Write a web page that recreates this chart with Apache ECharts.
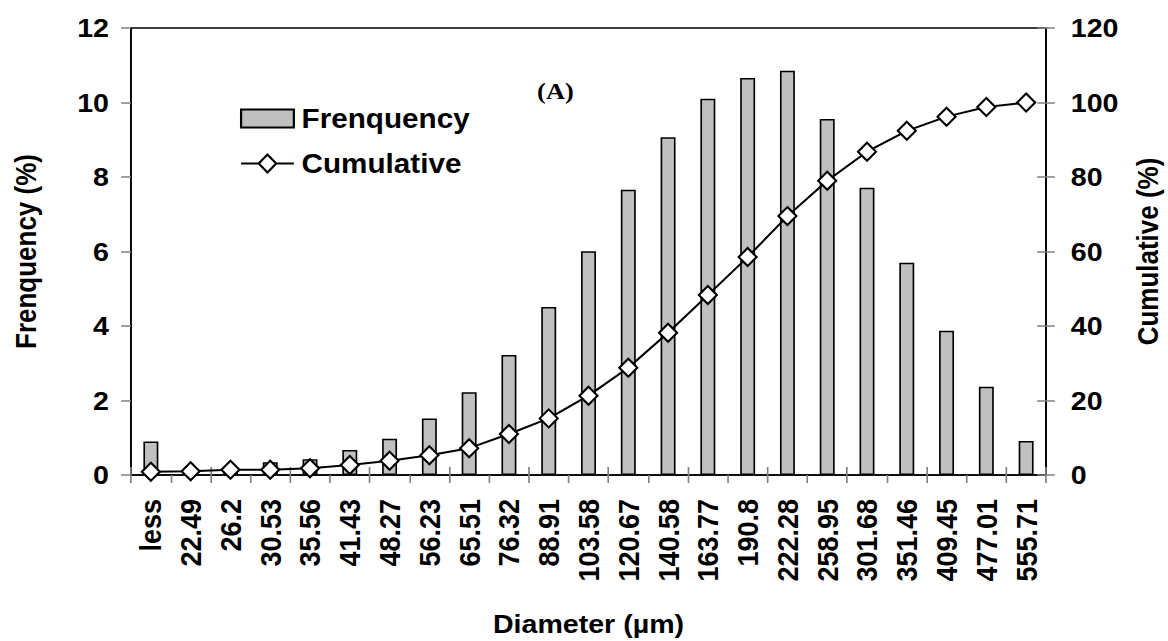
<!DOCTYPE html>
<html>
<head>
<meta charset="utf-8">
<script src="https://cdn.jsdelivr.net/npm/echarts@6/dist/echarts.min.js"></script>
<style>
  html, body { margin: 0; padding: 0; background: #fff; }
  #wrap { width: 1168px; height: 641px; overflow: hidden; }
  /* the chart is laid out slightly narrower and widened horizontally */
  #chart { width: 1062px; height: 641px; transform: scaleX(1.0998); transform-origin: 0 0; }
</style>
</head>
<body>
<div id="wrap"><div id="chart"></div></div>
<script>
// Particle size classes (upper bound, µm)
const diameters = ['less', '22.49', '26.2', '30.53', '35.56', '41.43', '48.27', '56.23', '65.51',
  '76.32', '88.91', '103.58', '120.67', '140.58', '163.77', '190.8', '222.28', '258.95',
  '301.68', '351.46', '409.45', '477.01', '555.71'];

// Frequency of each class (%)
const frequency = [0.9, 0.1, 0.2, 0.34, 0.42, 0.67, 0.97, 1.52, 2.22, 3.22, 4.51, 6.01,
  7.66, 9.07, 10.1, 10.66, 10.85, 9.56, 7.71, 5.70, 3.87, 2.37, 0.91];

// Cumulative distribution (%)
const cumulative = [0.9, 1.0, 1.4, 1.4, 1.8, 2.7, 3.8, 5.3, 7.2, 11.0, 15.2, 21.3,
  28.8, 38.2, 48.3, 58.5, 69.5, 79.0, 86.8, 92.4, 96.2, 98.8, 100];

const freqTicks = [0, 2, 4, 6, 8, 10, 12];
const cumTicks = [0, 20, 40, 60, 80, 100, 120];

const FONT = "'Liberation Sans', Arial, sans-serif";
const tickColor = '#808080';
const labelStyle = { color: '#000', fontFamily: FONT, fontWeight: 'bold', fontSize: 26 };

const chart = echarts.init(document.getElementById('chart'), null, { renderer: 'svg' });

chart.setOption({
  animation: false,
  backgroundColor: '#fff',
  grid: {
    left: 119.1, right: 110.9, top: 28, bottom: 166,
    outerBoundsMode: 'none', containLabel: false,
    show: true, borderColor: '#000', borderWidth: 1.5, backgroundColor: 'transparent'
  },
  title: {
    text: '(A)',
    left: 500, top: 74, textAlign: 'center',
    textStyle: { fontFamily: "'Liberation Serif', 'Times New Roman', serif", fontWeight: 'bold', fontSize: 24, color: '#000' }
  },
  legend: {
    orient: 'vertical',
    left: 213.2, top: 100,
    itemWidth: 48, itemHeight: 18, itemGap: 18,
    symbolKeepAspect: false,
    textStyle: { fontFamily: FONT, fontWeight: 'bold', fontSize: 27, color: '#000', padding: [0, 0, 0, 2] },
    data: [
      { name: 'Frenquency', icon: 'rect' },
      {
        name: 'Cumulative',
        icon: 'path://M0,9L18,9M18,9L27,0L36,9L27,18ZM36,9L54,9',
        itemStyle: { color: '#fff', borderColor: '#000', borderWidth: 2 }
      }
    ]
  },
  xAxis: [
    {
      type: 'category', data: diameters, position: 'bottom',
      name: 'Diameter (µm)', nameLocation: 'middle', nameGap: 136,
      nameTextStyle: labelStyle,
      axisLine: { lineStyle: { color: '#000', width: 1.5 } },
      axisTick: { show: true, inside: false, length: 8, lineStyle: { color: tickColor, width: 1.5 } },
      axisLabel: Object.assign({ rotate: 90, margin: 24, interval: 0 }, labelStyle, { fontSize: 27 }),
      splitLine: { show: false }
    },
    {
      type: 'category', data: diameters, position: 'bottom',
      axisLine: { show: false },
      axisTick: { show: true, inside: true, length: 8, lineStyle: { color: tickColor, width: 1.5 } },
      axisLabel: { show: false },
      splitLine: { show: false }
    }
  ],
  yAxis: [
    {
      type: 'value', position: 'left', min: 0, max: 12, interval: 2,
      name: 'Frenquency (%)', nameLocation: 'middle', nameGap: 82, nameRotate: 90,
      nameTextStyle: labelStyle,
      axisLine: { show: true, lineStyle: { color: '#000', width: 1.5 } },
      axisTick: { show: true, inside: false, length: 9, lineStyle: { color: tickColor, width: 1.5 } },
      axisLabel: Object.assign({ margin: 20, formatter: v => freqTicks.includes(v) ? String(v) : '' }, labelStyle),
      splitLine: { show: false }
    },
    {
      type: 'value', position: 'right', min: 0, max: 120, interval: 20,
      name: 'Cumulative (%)', nameLocation: 'middle', nameGap: 80, nameRotate: 90,
      nameTextStyle: labelStyle,
      axisLine: { show: true, lineStyle: { color: '#000', width: 1.5 } },
      axisTick: { show: true, inside: false, length: 8, lineStyle: { color: tickColor, width: 1.5 } },
      axisLabel: Object.assign({ margin: 22.5, formatter: v => cumTicks.includes(v) ? String(v) : '' }, labelStyle),
      splitLine: { show: false }
    },
    {
      type: 'value', position: 'right', min: 0, max: 120, interval: 20,
      axisLine: { show: false },
      axisTick: { show: true, inside: true, length: 8, lineStyle: { color: tickColor, width: 1.5 } },
      axisLabel: { show: false },
      splitLine: { show: false }
    }
  ],
  series: [
    {
      name: 'Frenquency', type: 'bar', xAxisIndex: 0, yAxisIndex: 0,
      data: frequency, barWidth: 13.6,
      itemStyle: { color: '#c0c0c0', borderColor: '#000', borderWidth: 1.5 }
    },
    {
      name: 'Cumulative', type: 'line', xAxisIndex: 0, yAxisIndex: 1,
      data: cumulative,
      symbol: 'diamond', symbolSize: [16.4, 18],
      lineStyle: { color: '#000', width: 2 },
      itemStyle: { color: '#fff', borderColor: '#000', borderWidth: 2 }
    }
  ]
});
</script>
</body>
</html>
